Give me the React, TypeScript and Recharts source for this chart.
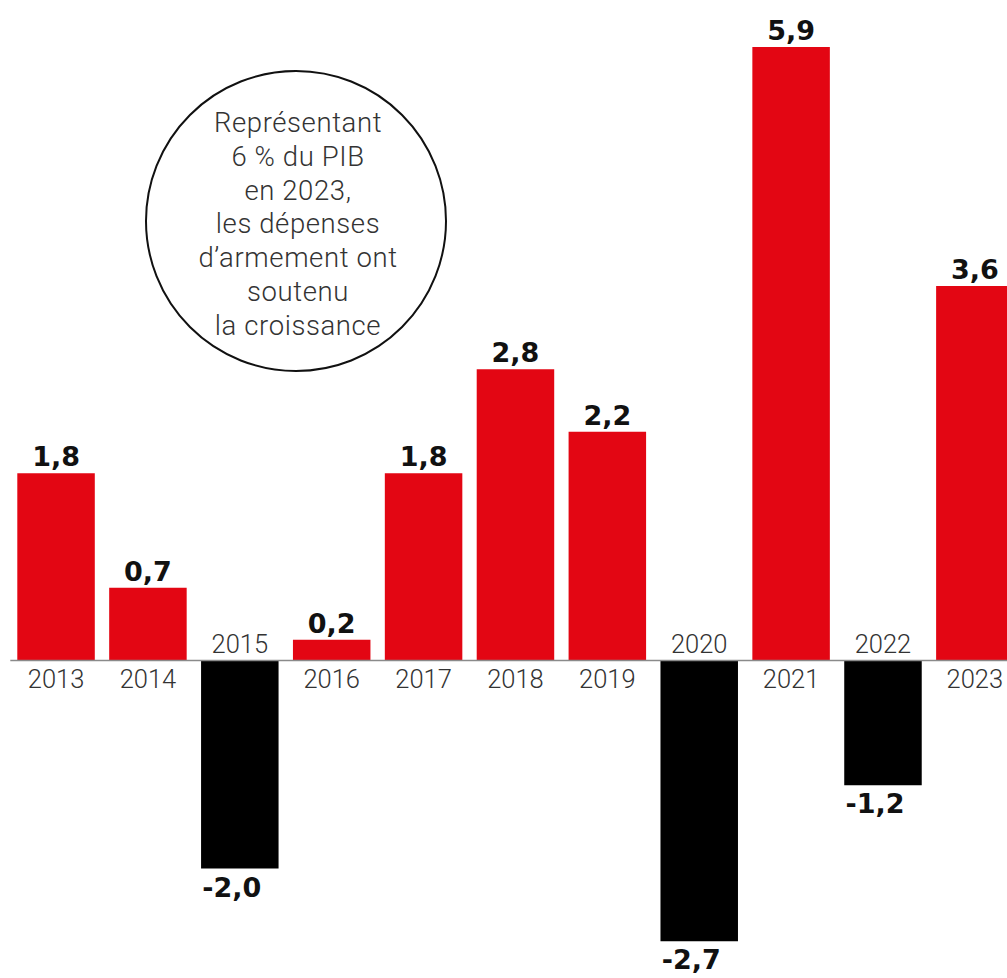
import React from 'react';
import { BarChart, Bar, XAxis, YAxis, Cell, LabelList, ReferenceLine } from 'recharts';

const years = ['2013', '2014', '2015', '2016', '2017', '2018', '2019', '2020', '2021', '2022', '2023'];
const growth = [1.8, 0.7, -2.0, 0.2, 1.8, 2.8, 2.2, -2.7, 5.9, -1.2, 3.6];
const noteLines = [
  'Représentant',
  '6 % du PIB',
  'en 2023,',
  'les dépenses',
  'd\u2019armement ont',
  'soutenu',
  'la croissance',
];

const RED = '#e30613';
const BLACK = '#000000';

const data = years.map((y, i) => ({ year: y, value: growth[i] }));

const fmt = (v: number) => v.toFixed(1).replace('.', ',');

function box(props: any) {
  const vb = props.viewBox && typeof props.viewBox.x === 'number' ? props.viewBox : props;
  const x = Number(vb.x), y = Number(vb.y), w = Number(vb.width), h = Number(vb.height);
  return { x, w, top: Math.min(y, y + h), bottom: Math.max(y, y + h) };
}

const ValueLabel = (props: any) => {
  const v = Number(props.value);
  const { x, w, top, bottom } = box(props);
  const cx = x + w / 2;
  const style = { fontFamily: '"DejaVu Sans", sans-serif', fontWeight: 700, fontSize: 27 };
  if (v >= 0) {
    return (
      <text x={cx} y={top - 7} textAnchor="middle" fill="#111" style={style}>
        {fmt(v)}
      </text>
    );
  }
  return (
    <text x={cx - 8} y={bottom + 28} textAnchor="middle" fill="#111" style={style}>
      {fmt(v)}
    </text>
  );
};

const YearLabel = (props: any) => {
  const label = String(props.value);
  const idx = years.indexOf(label);
  const v = growth[idx];
  const { x, w, top, bottom } = box(props);
  const cx = x + w / 2;
  const style = { fontFamily: 'Roboto, "Open Sans", sans-serif', fontWeight: 300, fontSize: 25.5 };
  if (v >= 0) {
    return (
      <text x={cx} y={bottom + 27} textAnchor="middle" fill="#333333" style={style}>
        {label}
      </text>
    );
  }
  return (
    <text x={cx} y={top - 8} textAnchor="middle" fill="#333333" style={style}>
      {label}
    </text>
  );
};

export default function App() {
  return (
    <div
      style={{
        position: 'absolute',
        left: 0,
        top: 0,
        width: 1007,
        height: 978,
        overflow: 'hidden',
        background: '#ffffff',
      }}
    >
      <BarChart
        width={1021}
        height={978}
        data={data}
        margin={{ top: 36.5, right: 0, bottom: 5.5, left: 10.3 }}
      >
        <XAxis dataKey="year" hide />
        <YAxis hide domain={[-3, 6]} />
        <Bar dataKey="value" barSize={77.5} isAnimationActive={false}>
          {data.map((d, i) => (
            <Cell key={i} fill={d.value >= 0 ? RED : BLACK} />
          ))}
          <LabelList dataKey="value" content={ValueLabel} />
          <LabelList dataKey="year" content={YearLabel} />
        </Bar>
        <ReferenceLine y={0} stroke="#8a8a8a" strokeWidth={1.5} ifOverflow="extendDomain" />
      </BarChart>
      <svg
        width={1007}
        height={978}
        style={{ position: 'absolute', left: 0, top: 0, pointerEvents: 'none' }}
      >
        <circle cx={296} cy={221} r={150} fill="none" stroke="#111" strokeWidth={2} />
        {noteLines.map((t, i) => (
          <text
            key={i}
            x={298}
            y={131.7 + i * 33.9}
            textAnchor="middle"
            fill="#333333"
            style={{
              fontFamily: 'Roboto, "Open Sans", sans-serif',
              fontWeight: 300,
              fontSize: 27.5,
              letterSpacing: 0.6,
            }}
          >
            {t}
          </text>
        ))}
      </svg>
    </div>
  );
}
